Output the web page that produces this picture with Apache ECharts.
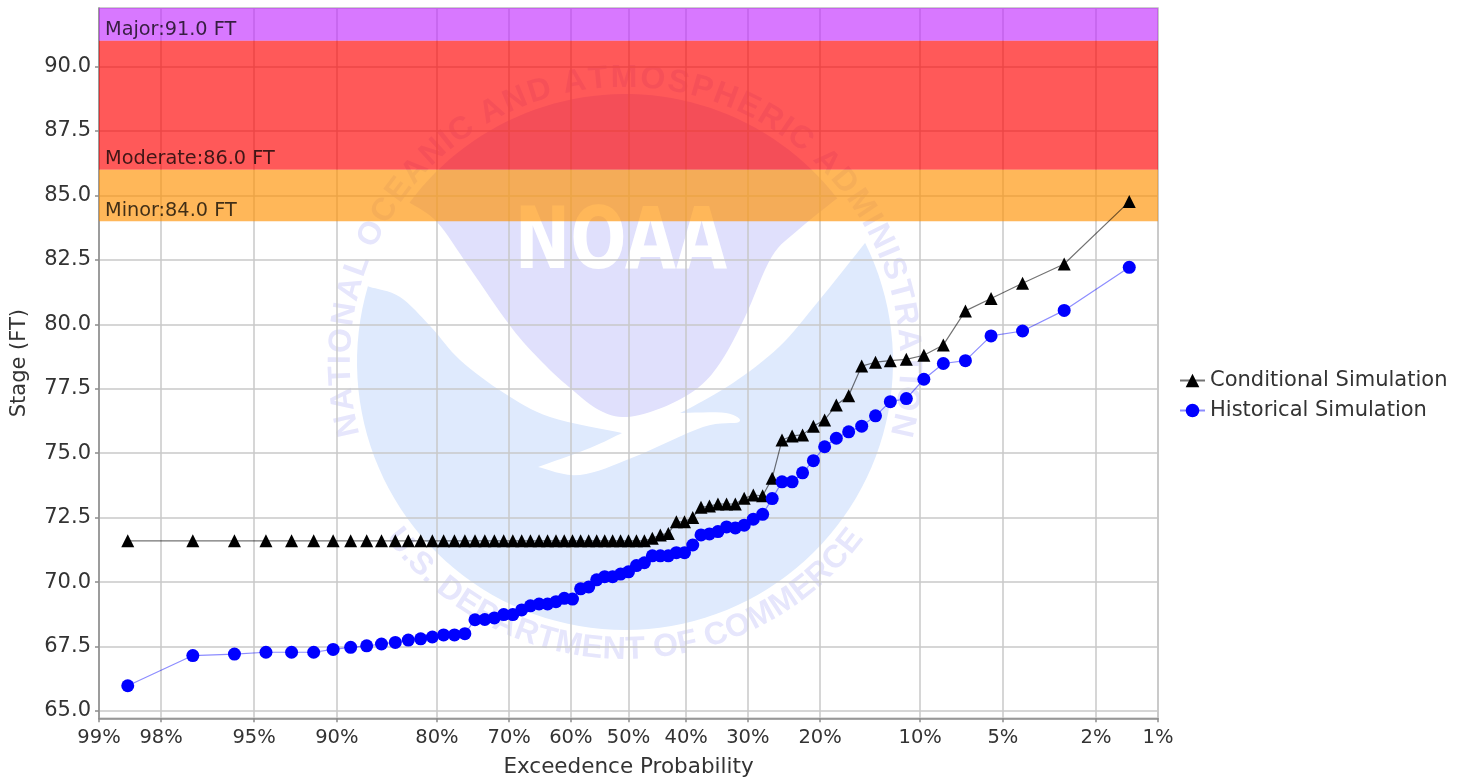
<!DOCTYPE html>
<html>
<head>
<meta charset="utf-8">
<style>html,body{margin:0;padding:0;background:#fff}#chart{width:1469px;height:780px}</style>
<script src="https://cdn.jsdelivr.net/npm/echarts@6/dist/echarts.min.js"></script>
</head>
<body>
<div id="chart"></div>
<script>
// Exceedance probability (%) of each plotted point
var exceedance = [98.61,97.22,95.83,94.44,93.06,91.67,90.28,88.89,87.50,86.11,84.72,83.33,81.94,80.56,79.17,77.78,76.39,75.00,73.61,72.22,70.83,69.44,68.06,66.67,65.28,63.89,62.50,61.11,59.72,58.33,56.94,55.56,54.17,52.78,51.39,50.00,48.61,47.22,45.83,44.44,43.06,41.67,40.28,38.89,37.50,36.11,34.72,33.33,31.94,30.56,29.17,27.78,26.39,25.00,23.61,22.22,20.83,19.44,18.06,16.67,15.28,13.89,12.50,11.11,9.72,8.33,6.94,5.56,4.17,2.78,1.39];
var conditional = [71.6,71.6,71.6,71.6,71.6,71.6,71.6,71.6,71.6,71.6,71.6,71.6,71.6,71.6,71.6,71.6,71.6,71.6,71.6,71.6,71.6,71.6,71.6,71.6,71.6,71.6,71.6,71.6,71.6,71.6,71.6,71.6,71.6,71.6,71.6,71.6,71.6,71.6,71.70,71.83,71.89,72.34,72.34,72.51,72.90,72.95,73.03,73.03,73.03,73.25,73.38,73.35,74.03,75.51,75.67,75.71,76.05,76.29,76.87,77.23,78.38,78.53,78.59,78.64,78.80,79.20,80.52,81.00,81.59,82.34,84.76];
var historical = [65.98,67.15,67.21,67.28,67.28,67.28,67.39,67.47,67.53,67.60,67.66,67.75,67.80,67.87,67.95,67.95,68.00,68.54,68.55,68.61,68.74,68.74,68.92,69.08,69.15,69.15,69.24,69.37,69.34,69.74,69.81,70.09,70.21,70.21,70.31,70.40,70.64,70.75,71.02,71.02,71.02,71.14,71.14,71.44,71.83,71.87,71.96,72.14,72.10,72.21,72.44,72.63,73.24,73.89,73.89,74.24,74.71,75.25,75.58,75.83,76.05,76.45,77.00,77.12,77.87,78.48,78.59,79.55,79.74,80.54,82.21];
var xTickPercents = [99,98,95,90,80,70,60,50,40,30,20,10,5,2,1];
var yTicks = [65,67.5,70,72.5,75,77.5,80,82.5,85,87.5,90];
var yMin = 64.717, yMax = 92.27;
var bandNames = ['Major','Moderate','Minor'];
var bandFloors = [91,86,84];
var bandCeils = [yMax,91,86];
var bandColors = ['rgba(190,30,255,0.6)','rgba(255,0,0,0.65)','rgba(255,145,0,0.65)'];

// Normal-probability axis transform (inverse normal CDF, Acklam)
function probit(p){
  var a=[-39.69683028665376,220.9460984245205,-275.9285104469687,138.3577518672690,-30.66479806614716,2.506628277459239],
      b=[-54.47609879822406,161.5858368580409,-155.6989798598866,66.80131188771972,-13.28068155288572],
      c=[-0.007784894002430293,-0.3223964580411365,-2.400758277161838,-2.549732539343734,4.374664141464968,2.938163982698783],
      d=[0.007784695709041462,0.3224671290700398,2.445134137142996,3.754408661907416],q,r;
  if(p<0.02425){q=Math.sqrt(-2*Math.log(p));return (((((c[0]*q+c[1])*q+c[2])*q+c[3])*q+c[4])*q+c[5])/((((d[0]*q+d[1])*q+d[2])*q+d[3])*q+1);}
  if(p>1-0.02425){q=Math.sqrt(-2*Math.log(1-p));return -(((((c[0]*q+c[1])*q+c[2])*q+c[3])*q+c[4])*q+c[5])/((((d[0]*q+d[1])*q+d[2])*q+d[3])*q+1);}
  q=p-0.5;r=q*q;
  return (((((a[0]*r+a[1])*r+a[2])*r+a[3])*r+a[4])*r+a[5])*q/(((((b[0]*r+b[1])*r+b[2])*r+b[3])*r+b[4])*r+1);
}
function toX(pct){return probit(1-pct/100);}
var xTicks = xTickPercents.map(toX);

function pairs(ys){return ys.map(function(y,i){return [toX(exceedance[i]),y];});}

// Watermark (decorative NOAA seal behind the plot)
var cx=625, cy=362, R=268;
function arc(a0,a1,n,r){var o=[];for(var i=0;i<=n;i++){var t=(a0+(a1-a0)*i/n)*Math.PI/180;o.push([cx+r*Math.sin(t),cy-r*Math.cos(t)]);}return o;}
function curve(pts){ // Catmull-Rom through a hand-traced outline
  var o=[];
  for(var i=0;i<pts.length-1;i++){
    var p0=pts[Math.max(i-1,0)],p1=pts[i],p2=pts[i+1],p3=pts[Math.min(i+2,pts.length-1)];
    for(var k=0;k<8;k++){var t=k/8,t2=t*t,t3=t2*t;
      o.push([0,1].map(function(j){return 0.5*(2*p1[j]+(p2[j]-p0[j])*t+(2*p0[j]-5*p1[j]+4*p2[j]-p3[j])*t2+(3*p1[j]-p0[j]-3*p2[j]+p3[j])*t3);}));}
  }
  o.push(pts[pts.length-1]);return o;
}
var dome = arc(-53.5,52.4,50,R).concat(curve([[835,200],[798,230],[771.6,257],[745,317],[722,360],[699,387],[664,407],[626,417],[599,410],[569,387],[542,362],[511,327],[469,267],[437,222],[410,203]]));
var lower = arc(286.4,63.6,90,R)
  .concat(curve([[865,243],[817,303],[779,347],[733,383],[690,408]]))
  .concat(curve([[680,413],[726,413],[739,422],[703,427],[634,457],[580,475],[538,467]]))
  .concat(curve([[538,467],[590,448],[622,433]]))
  .concat(curve([[622,433],[550,417],[504,393],[460,360],[431,327],[400,297],[370,287]]));
var logo = [
  {type:'polygon',z:-10,silent:true,shape:{points:lower},style:{fill:'#DFEAFD'}},
  {type:'polygon',z:-9,silent:true,shape:{points:dome},style:{fill:'#E0E0FC'}},
  {type:'text',z:-8,silent:true,x:621,y:246,scaleX:0.72,scaleY:0.93,style:{text:'NOAA',font:'bold 92px "DejaVu Sans"',fill:'#fff',align:'center',verticalAlign:'middle'}}
];
var mctx=document.createElement('canvas').getContext('2d');
function ringText(str,from,to,r,bottom){
  var font='bold 32px "Liberation Sans"';mctx.font=font;
  var w=[],tot=0,i;for(i=0;i<str.length;i++){var m=mctx.measureText(str[i]).width;w.push(m);tot+=m;}
  var used=tot-w[0]/2-w[str.length-1]/2;
  var acc=0;
  for(i=0;i<str.length;i++){
    var c=(acc+w[i]/2-w[0]/2)/used; acc+=w[i];
    var t=(from+(to-from)*c)*Math.PI/180;
    if(str[i]===' ')continue;
    var x=cx+r*Math.sin(t);
    var y=bottom?cy+r*Math.cos(t):cy-r*Math.cos(t);
    logo.push({type:'text',z:-8,silent:true,x:x,y:y,rotation:bottom?t:-t,style:{text:str[i],font:font,fill:'#E6E6FC',align:'center',verticalAlign:'middle'}});
  }
}
ringText('NATIONAL OCEANIC AND ATMOSPHERIC ADMINISTRATION',-102.8,102.8,284,false);
ringText('U.S. DEPARTMENT OF COMMERCE',-51.5,51.5,288,true);

var txt='#333';
var chart=echarts.init(document.getElementById('chart'),null,{renderer:'canvas'});
chart.setOption({
  animation:false,
  backgroundColor:'#fff',
  textStyle:{fontFamily:'"DejaVu Sans"'},
  graphic:{elements:logo},
  grid:{left:99,top:8,width:1059,height:710.3,show:true,borderColor:'#bdbdbd',borderWidth:1.5,backgroundColor:'transparent',containLabel:false,outerBoundsMode:'none'},
  legend:{
    orient:'vertical',left:1179,top:370,padding:0,itemWidth:25,itemHeight:17,itemGap:9,
    data:['Conditional Simulation','Historical Simulation'],
    textStyle:{fontFamily:'"DejaVu Sans"',fontSize:21,color:txt}
  },
  xAxis:{
    type:'value',min:toX(99),max:toX(1),scale:true,
    name:'Exceedence Probability',nameLocation:'middle',nameGap:38,
    nameTextStyle:{fontFamily:'"DejaVu Sans"',fontSize:21.5,color:txt},
    axisLine:{onZero:false,lineStyle:{color:'#8c8c8c',width:1.5}},
    axisTick:{show:true,length:4,customValues:xTicks,lineStyle:{color:'#8c8c8c',width:1.5}},
    axisLabel:{customValues:xTicks,margin:10,color:txt,fontFamily:'"DejaVu Sans"',fontSize:19.5,
      formatter:function(v){var best=0;xTicks.forEach(function(t,i){if(Math.abs(t-v)<Math.abs(xTicks[best]-v))best=i;});return xTickPercents[best]+'%';}},
    splitLine:{show:true,lineStyle:{color:'#c8c8c8',width:1.5}}
  },
  yAxis:{
    type:'value',min:yMin,max:yMax,scale:true,
    name:'Stage (FT)',nameLocation:'middle',nameGap:69,
    nameTextStyle:{fontFamily:'"DejaVu Sans"',fontSize:21,color:txt},
    axisLine:{onZero:false,lineStyle:{color:'#8c8c8c',width:1.5}},
    axisTick:{show:true,length:4,customValues:yTicks,lineStyle:{color:'#8c8c8c',width:1.5}},
    axisLabel:{customValues:yTicks,margin:8,color:txt,fontFamily:'"DejaVu Sans"',fontSize:21,padding:[2,0,0,0],
      formatter:function(v){return v.toFixed(1);}},
    splitLine:{show:true,lineStyle:{color:'#c8c8c8',width:1.5}}
  },
  series:[
    {name:'Conditional Simulation',type:'line',data:pairs(conditional),symbol:'triangle',symbolSize:13,showSymbol:true,
      lineStyle:{color:'rgba(0,0,0,0.55)',width:1.2},itemStyle:{color:'#000'},silent:true,z:3,
      markArea:{silent:true,
        label:{show:true,position:'insideBottomLeft',formatter:'{b}',distance:0,color:'rgba(0,0,0,0.75)',fontFamily:'"DejaVu Sans"',fontSize:19.3,padding:[0,0,1,6]},
        data:bandNames.map(function(n,i){return [
          {yAxis:bandFloors[i],name:n+':'+bandFloors[i].toFixed(1)+' FT',itemStyle:{color:bandColors[i]}},
          {yAxis:bandCeils[i],xAxis:toX(1)}
        ];})
      }},
    {name:'Historical Simulation',type:'line',data:pairs(historical),symbol:'circle',symbolSize:13,showSymbol:true,
      lineStyle:{color:'rgba(0,0,255,0.45)',width:1.2},itemStyle:{color:'#0000ff'},silent:true,z:4}
  ]
});
</script>
</body>
</html>
